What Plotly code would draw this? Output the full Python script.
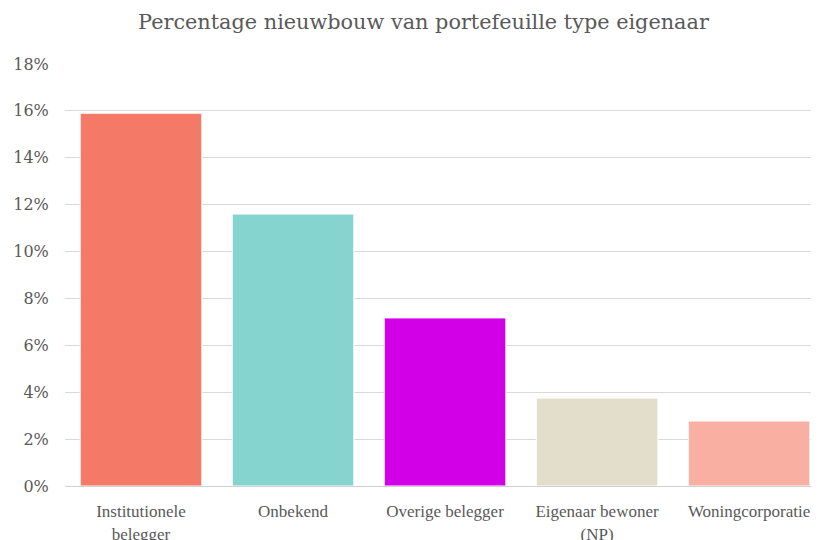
import plotly.graph_objects as go

categories = ["Institutionele<br>belegger", "Onbekend", "Overige belegger", "Eigenaar bewoner<br>(NP)", "Woningcorporatie"]
values = [0.159, 0.116, 0.0717, 0.0375, 0.0277]
colors = ["#F47966", "#86D4CF", "#D200E6", "#E3DDCB", "#F9B0A3"]
title = "Percentage nieuwbouw van portefeuille type eigenaar"

fig = go.Figure(go.Bar(
    x=list(range(len(categories))), y=values,
    marker=dict(color=colors, line=dict(color="white", width=1)),
    width=0.8,
))
fig.update_layout(
    width=811, height=532,
    margin=dict(l=57, r=0, t=56, b=54, autoexpand=False),
    paper_bgcolor="white", plot_bgcolor="white",
    title=dict(text=title, x=0.5123, xanchor="center", y=0.9737, yanchor="middle",
               font=dict(family="DejaVu Serif", size=20.8, color="#595959"), automargin=False),
    font=dict(family="DejaVu Serif", color="#595959"),
    showlegend=False,
    bargap=0.2,
)
fig.update_xaxes(
    tickmode="array", tickvals=list(range(len(categories))), ticktext=categories,
    range=[-0.5, 4.46], showgrid=False, showline=False,
    ticks="outside", ticklen=10, tickcolor="rgba(0,0,0,0)", automargin=False,
    tickfont=dict(family="Liberation Serif", size=17, color="#595959"),
)
fig.update_yaxes(
    range=[0, 0.18], dtick=0.02, tickformat=".0%",
    showgrid=True, gridcolor="#D9D9D9", gridwidth=1,
    zeroline=True, zerolinecolor="#D0D0D0", zerolinewidth=1,
    ticks="outside", ticklen=12, tickcolor="rgba(0,0,0,0)", automargin=False,
    tickfont=dict(family="DejaVu Serif", size=16, color="#595959"),
)
fig.write_html("out.html")
